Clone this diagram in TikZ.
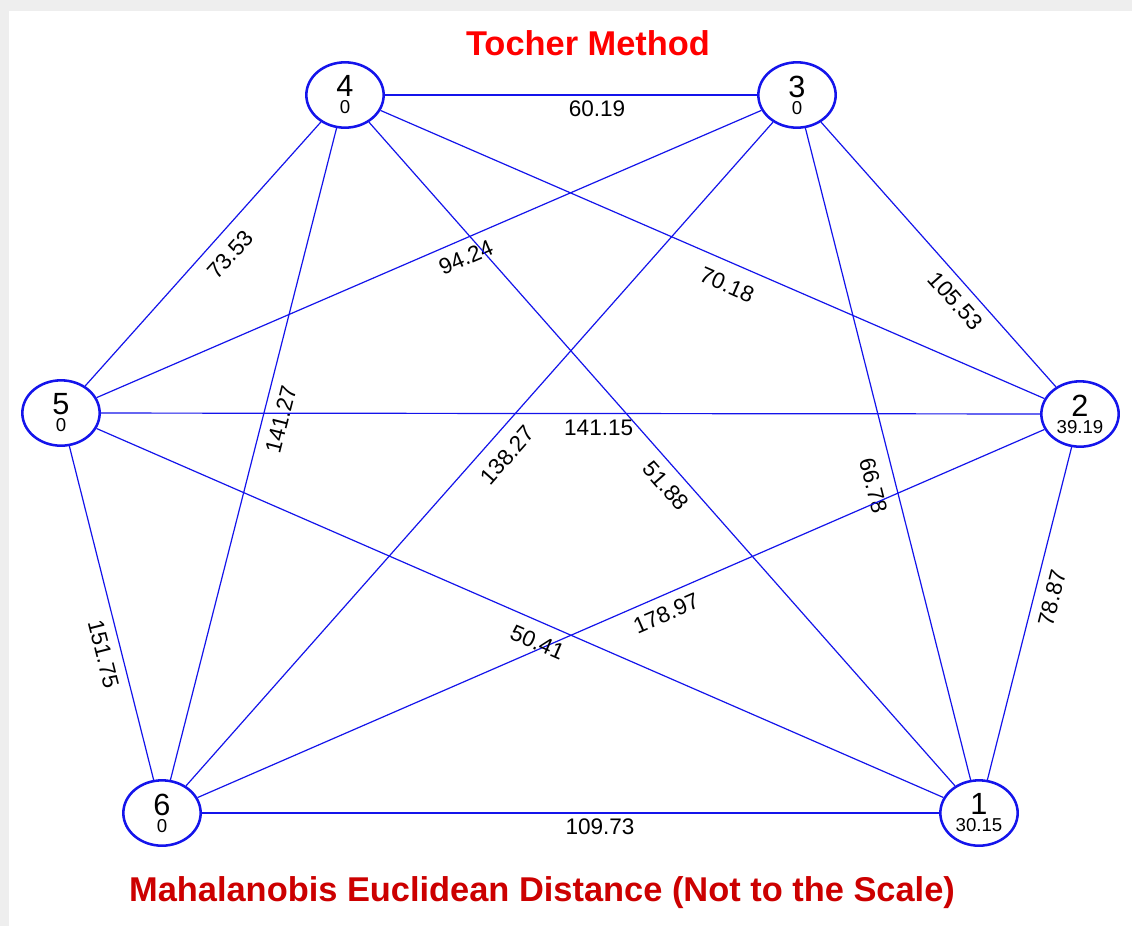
\documentclass[tikz,border=0pt]{standalone}
\usepackage{fontspec}
\setmainfont{Liberation Sans}
\setsansfont{Liberation Sans}
\usepackage{tikz}
\usetikzlibrary{shapes,positioning}
\definecolor{tocherblue}{RGB}{20,20,235}
\definecolor{tocherred}{RGB}{255,0,0}
\definecolor{tocherdarkred}{RGB}{204,0,0}
\definecolor{framegray}{RGB}{238,238,238}

\begin{document}
\begin{tikzpicture}[x=0.75pt, y=-0.75pt,
	% Node styles
	cluster/.style={
		ellipse,
		draw=tocherblue,
		line width=1.9pt,
		fill=white,
		minimum width=58pt,
		minimum height=49pt,
		inner sep=0pt,
		align=center,
		font=\fontsize{14}{12.75}\selectfont
	},
	edge/.style={
		draw=tocherblue,
		line width=0.9pt
	},
	dist/.style={
		sloped,
		below,
		inner sep=7pt,
		font=\fontsize{16.9}{18}\selectfont
	},
	heading/.style={
		font=\fontsize{25.8}{28}\selectfont\bfseries
	}
	]
	
	% Frame
	\useasboundingbox (0,0) rectangle (1132,926);
	\fill[framegray] (0,0) rectangle (1132,926);
	\fill[white] (9,11) rectangle (1132,926);
	
	% Title
	\node[heading, color=tocherred] (title) at (588,43) {Tocher Method};
	
	% Cluster centres
	\coordinate (c4) at (345,95);
	\coordinate (c3) at (797,95);
	\coordinate (c5) at (61,413);
	\coordinate (c2) at (1080,414);
	\coordinate (c6) at (162,813);
	\coordinate (c1) at (979,813);
	
	% Clusters
	\node[cluster] (n4) at (c4) {{\fontsize{23}{12.75}\selectfont 4}\\0};
	\node[cluster] (n3) at (c3) {{\fontsize{23}{12.75}\selectfont 3}\\0};
	\node[cluster] (n5) at (c5) {{\fontsize{23}{12.75}\selectfont 5}\\0};
	\node[cluster] (n2) at (c2) {{\fontsize{23}{12.75}\selectfont 2}\\39.19};
	\node[cluster] (n6) at (c6) {{\fontsize{23}{12.75}\selectfont 6}\\0};
	\node[cluster] (n1) at (c1) {{\fontsize{23}{12.75}\selectfont 1}\\30.15};
	
	% Distances
	\draw[edge] (n4) -- node[dist, pos=0.57, inner sep=3.5pt] {60.19} (n3);
	\draw[edge] (n4) -- node[dist, pos=0.45, inner sep=9pt] {73.53} (n5);
	\draw[edge] (n3) -- node[dist, pos=0.455] {94.24} (n5);
	\draw[edge] (n4) -- node[dist, pos=0.535, inner sep=10pt] {70.18} (n2);
	\draw[edge] (n3) -- node[dist, pos=0.63] {105.53} (n2);
	\draw[edge] (n4) -- node[dist, pos=0.44] {141.27} (n6);
	\draw[edge] (n3) -- node[dist, pos=0.48, inner sep=10pt] {138.27} (n6);
	\draw[edge] (n4) -- node[dist, pos=0.53] {51.88} (n1);
	\draw[edge] (n3) -- node[dist, pos=0.54, inner sep=10pt] {66.78} (n1);
	\draw[edge] (n2) -- node[dist, pos=0.44] {78.87} (n1);
	\draw[edge] (n5) -- node[dist, pos=0.61] {151.75} (n6);
	\draw[edge] (n2) -- node[dist, pos=0.455] {178.97} (n6);
	\draw[edge] (n5) -- node[dist, pos=0.53, inner sep=8.5pt] {50.41} (n1);
	\draw[edge] (n5) -- node[dist, pos=0.53, inner sep=4.5pt] {141.15} (n2);
	\draw[edge] (n6) -- node[dist, pos=0.54, inner sep=4pt] {109.73} (n1);
	
	% Footnote
	\node[heading, color=tocherdarkred] (note) at (542,893) {Mahalanobis Euclidean Distance (Not to the Scale)};
	
\end{tikzpicture}
\end{document}
